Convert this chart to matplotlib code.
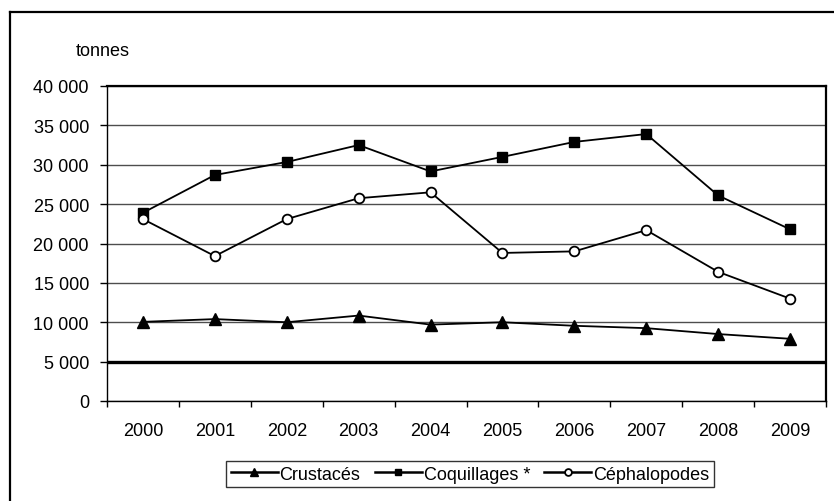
import matplotlib.pyplot as plt
from matplotlib.lines import Line2D

years = ["2000", "2001", "2002", "2003", "2004", "2005", "2006", "2007", "2008", "2009"]
crustaces = [10050, 10400, 10000, 10850, 9700, 10000, 9550, 9250, 8500, 7900]
coquillages = [23900, 28700, 30350, 32500, 29150, 31000, 32900, 33900, 26100, 21800]
cephalopodes = [23100, 18400, 23100, 25750, 26500, 18800, 19000, 21700, 16400, 13000]
seuil = 5000

plt.rcParams["font.family"] = ["Liberation Sans", "DejaVu Sans"]
plt.rcParams["font.size"] = 13

fig = plt.figure(figsize=(8.34, 5.02), dpi=100)
ax = fig.add_axes([107 / 834, 1 - 402 / 502, 719 / 834, 315 / 502])

x = range(len(years))
ax.plot(x, crustaces, color="black", lw=1.3, marker="^", ms=8, mfc="black", mec="black", label="Crustacés")
ax.plot(x, coquillages, color="black", lw=1.3, marker="s", ms=7, mfc="black", mec="black", label="Coquillages *")
ax.plot(x, cephalopodes, color="black", lw=1.3, marker="o", ms=7, mfc="white", mec="black", mew=1.3, label="Céphalopodes")

ax.axhline(seuil, color="black", lw=2.4, zorder=1)

ax.set_ylim(0, 40000)
ax.set_yticks(range(0, 40001, 5000))
ax.set_yticklabels([f"{v:,}".replace(",", " ") for v in range(0, 40001, 5000)])
ax.yaxis.grid(True, color="#4d4d4d", lw=1)
ax.set_axisbelow(True)

ax.set_xlim(-0.5, len(years) - 0.5)
ax.set_xticks(list(x))
ax.set_xticklabels(years)
ax.set_xticks([i - 0.5 for i in range(len(years) + 1)], minor=True)
ax.tick_params(axis="x", which="major", length=0, pad=15)
ax.tick_params(axis="x", which="minor", length=4, width=1, direction="out")
ax.tick_params(axis="y", length=5, width=1, direction="out", pad=8)

for s in ["left", "bottom"]:
    ax.spines[s].set_linewidth(1)
for s in ["top", "right"]:
    ax.spines[s].set_linewidth(1.6)

fig.text(103 / 834, 1 - 51 / 502, "tonnes", ha="center", va="center", fontsize=13)

leg = fig.legend(loc="center", bbox_to_anchor=(470 / 834, 1 - 475 / 502), ncol=3,
                 frameon=True, fancybox=False, edgecolor="black", handlelength=2.6,
                 handletextpad=0.1, columnspacing=0.8, borderpad=0.25, markerscale=0.7)
leg.get_frame().set_linewidth(1)
for h in leg.get_lines():
    h.set_linewidth(1.8)

# cadre extérieur (haut et gauche)
fig.add_artist(Line2D([9.5 / 834, 9.5 / 834], [0, 1 - 12.5 / 502], color="black", lw=1.6, transform=fig.transFigure))
fig.add_artist(Line2D([9.5 / 834, 1], [1 - 12.5 / 502, 1 - 12.5 / 502], color="black", lw=1.6, transform=fig.transFigure))

fig.savefig("out.png", dpi=100)
